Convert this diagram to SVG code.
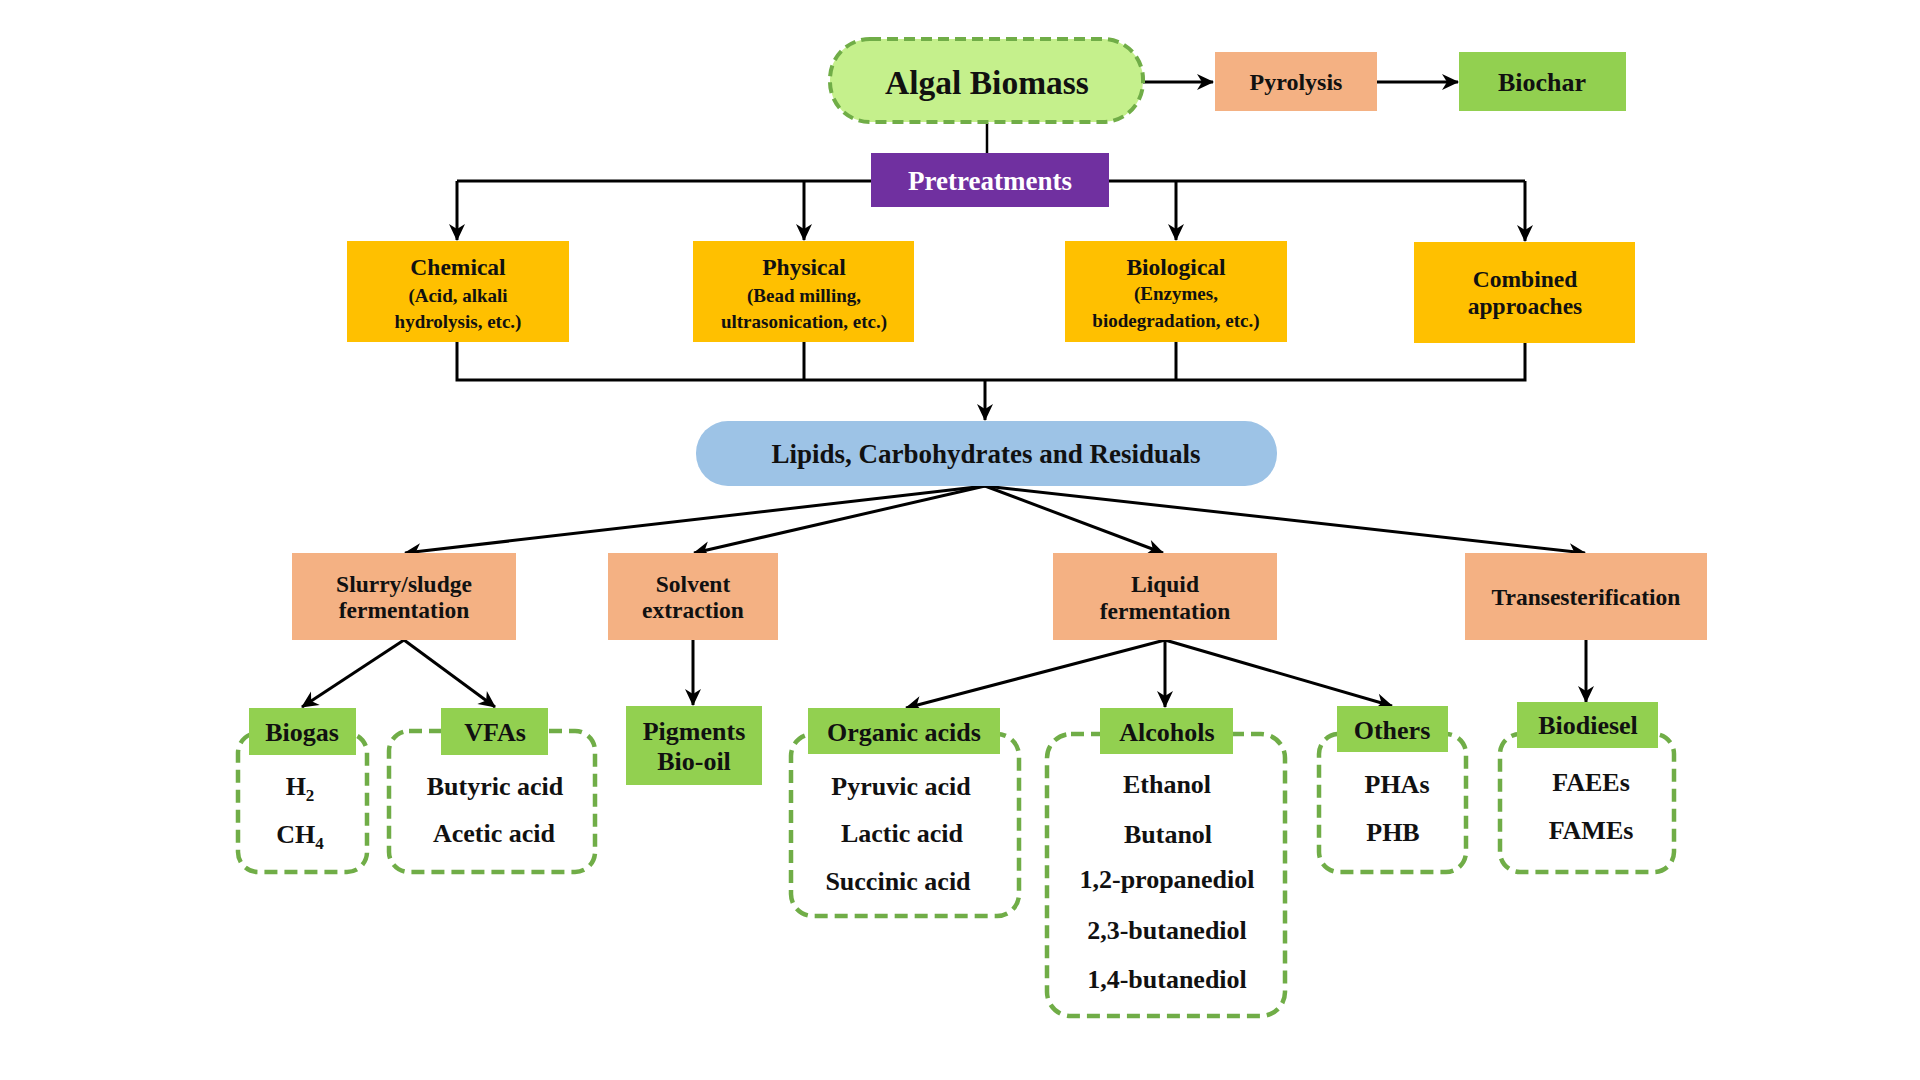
<svg xmlns="http://www.w3.org/2000/svg" width="1920" height="1080" viewBox="0 0 1920 1080">
<style>
text{font-family:"Liberation Serif","Times New Roman",serif;font-weight:bold;fill:#111;text-anchor:middle}
.t33{font-size:33.5px}.t27{font-size:27px}.t26{font-size:26px}.t24{font-size:24px}.t23{font-size:23.5px}.t19{font-size:19px}
.sal{fill:#F4B183}.yel{fill:#FFC000}.grn{fill:#92D050}
.dash{fill:#fff;stroke:#70AD47;stroke-width:4.5;stroke-dasharray:13 7}
.ln{fill:none;stroke:#000;stroke-width:3}
.arr{fill:none;stroke:#000;stroke-width:3;marker-end:url(#ah)}
</style>
<defs>
<marker id="ah" markerUnits="userSpaceOnUse" markerWidth="18" markerHeight="16" refX="16" refY="8" orient="auto" overflow="visible">
<path d="M0,0 L17,8 L0,16 L5,8 Z" fill="#000"/>
</marker>
</defs>
<rect width="1920" height="1080" fill="#fff"/>

<g id="connectors">
<path class="arr" d="M1143,82 L1213,82"/>
<path class="arr" d="M1377,82 L1458,82"/>
<path class="ln" d="M987,123 L987,153" style="stroke-width:2.5"/>
<path class="ln" d="M457,181 L1525,181"/>
<path class="arr" d="M457,181 L457,240"/>
<path class="arr" d="M804,181 L804,240"/>
<path class="arr" d="M1176,181 L1176,240"/>
<path class="arr" d="M1525,181 L1525,241"/>
<path class="ln" d="M457,342 L457,380 L1525,380 L1525,343"/>
<path class="ln" d="M804,342 L804,380"/>
<path class="ln" d="M1176,342 L1176,380"/>
<path class="arr" d="M985,380 L985,420"/>
<path class="arr" d="M985,486 L405,553"/>
<path class="arr" d="M985,486 L694,553"/>
<path class="arr" d="M985,486 L1163,553"/>
<path class="arr" d="M985,486 L1585,553"/>
<path class="arr" d="M404,640 L302,707"/>
<path class="arr" d="M404,640 L495,707"/>
<path class="arr" d="M693,640 L693,705"/>
<path class="arr" d="M1165,640 L906,708"/>
<path class="arr" d="M1165,640 L1165,707"/>
<path class="arr" d="M1165,640 L1392,706"/>
<path class="arr" d="M1586,640 L1586,702"/>
</g>

<g id="algal-biomass">
<rect x="830" y="39" width="313" height="83" rx="40" fill="#C5F08C" stroke="#70AD47" stroke-width="4" stroke-dasharray="11 6"/>
<text class="t33" x="987" y="94">Algal Biomass</text>
</g>
<g id="pyrolysis">
<rect class="sal" x="1215" y="52" width="162" height="59"/>
<text class="t24" x="1296" y="90">Pyrolysis</text>
</g>
<g id="biochar">
<rect class="grn" x="1459" y="52" width="167" height="59"/>
<text class="t26" x="1542" y="91">Biochar</text>
</g>
<g id="pretreatments">
<rect x="871" y="153" width="238" height="54" fill="#7030A0"/>
<text class="t27" x="990" y="190" style="fill:#fff">Pretreatments</text>
</g>

<g id="chemical">
<rect class="yel" x="347" y="241" width="222" height="101"/>
<text class="t23" x="458" y="275">Chemical</text>
<text class="t19" x="458" y="302">(Acid, alkali</text>
<text class="t19" x="458" y="328">hydrolysis, etc.)</text>
</g>
<g id="physical">
<rect class="yel" x="693" y="241" width="221" height="101"/>
<text class="t23" x="804" y="275">Physical</text>
<text class="t19" x="804" y="302">(Bead milling,</text>
<text class="t19" x="804" y="328">ultrasonication, etc.)</text>
</g>
<g id="biological">
<rect class="yel" x="1065" y="241" width="222" height="101"/>
<text class="t23" x="1176" y="275">Biological</text>
<text class="t19" x="1176" y="300">(Enzymes,</text>
<text class="t19" x="1176" y="327">biodegradation, etc.)</text>
</g>
<g id="combined">
<rect class="yel" x="1414" y="242" width="221" height="101"/>
<text class="t23" x="1525" y="287">Combined</text>
<text class="t23" x="1525" y="314">approaches</text>
</g>

<g id="lipids">
<rect x="696" y="421" width="581" height="65" rx="32" fill="#9DC3E6"/>
<text class="t27" x="986" y="463">Lipids, Carbohydrates and Residuals</text>
</g>

<g id="slurry">
<rect class="sal" x="292" y="553" width="224" height="87"/>
<text class="t23" x="404" y="592">Slurry/sludge</text>
<text class="t23" x="404" y="618">fermentation</text>
</g>
<g id="solvent">
<rect class="sal" x="608" y="553" width="170" height="87"/>
<text class="t23" x="693" y="592">Solvent</text>
<text class="t23" x="693" y="618">extraction</text>
</g>
<g id="liquid">
<rect class="sal" x="1053" y="553" width="224" height="87"/>
<text class="t23" x="1165" y="592">Liquid</text>
<text class="t23" x="1165" y="619">fermentation</text>
</g>
<g id="transesterification">
<rect class="sal" x="1465" y="553" width="242" height="87"/>
<text class="t23" x="1586" y="605">Transesterification</text>
</g>

<g id="biogas">
<rect class="dash" x="238" y="733" width="129" height="139" rx="20"/>
<rect class="grn" x="249" y="708" width="107" height="47"/>
<text class="t26" x="302" y="741">Biogas</text>
<text class="t26" x="300" y="795">H<tspan dy="6" font-size="17">2</tspan></text>
<text class="t26" x="300" y="843">CH<tspan dy="6" font-size="17">4</tspan></text>
</g>
<g id="vfas">
<rect class="dash" x="389" y="731" width="206" height="141" rx="20"/>
<rect class="grn" x="441" y="708" width="107" height="47"/>
<text class="t26" x="495" y="741">VFAs</text>
<text class="t26" x="495" y="795">Butyric acid</text>
<text class="t26" x="494" y="842">Acetic acid</text>
</g>
<g id="pigments">
<rect class="grn" x="626" y="706" width="136" height="79"/>
<text class="t26" x="694" y="740">Pigments</text>
<text class="t26" x="694" y="770">Bio-oil</text>
</g>
<g id="organic-acids">
<rect class="dash" x="791" y="734" width="228" height="182" rx="22"/>
<rect class="grn" x="808" y="708" width="192" height="46"/>
<text class="t26" x="904" y="741">Organic acids</text>
<text class="t26" x="901" y="795">Pyruvic acid</text>
<text class="t26" x="902" y="842">Lactic acid</text>
<text class="t26" x="898" y="890">Succinic acid</text>
</g>
<g id="alcohols">
<rect class="dash" x="1047" y="734" width="238" height="282" rx="24"/>
<rect class="grn" x="1100" y="708" width="133" height="46"/>
<text class="t26" x="1167" y="741">Alcohols</text>
<text class="t26" x="1167" y="793">Ethanol</text>
<text class="t26" x="1168" y="843">Butanol</text>
<text class="t26" x="1167" y="888">1,2-propanediol</text>
<text class="t26" x="1167" y="939">2,3-butanediol</text>
<text class="t26" x="1167" y="988">1,4-butanediol</text>
</g>
<g id="others">
<rect class="dash" x="1319" y="734" width="147" height="138" rx="20"/>
<rect class="grn" x="1337" y="706" width="111" height="46"/>
<text class="t26" x="1392" y="739">Others</text>
<text class="t26" x="1397" y="793">PHAs</text>
<text class="t26" x="1393" y="841">PHB</text>
</g>
<g id="biodiesel">
<rect class="dash" x="1500" y="734" width="174" height="138" rx="20"/>
<rect class="grn" x="1517" y="702" width="141" height="46"/>
<text class="t26" x="1588" y="734">Biodiesel</text>
<text class="t26" x="1591" y="791">FAEEs</text>
<text class="t26" x="1591" y="839">FAMEs</text>
</g>
</svg>
